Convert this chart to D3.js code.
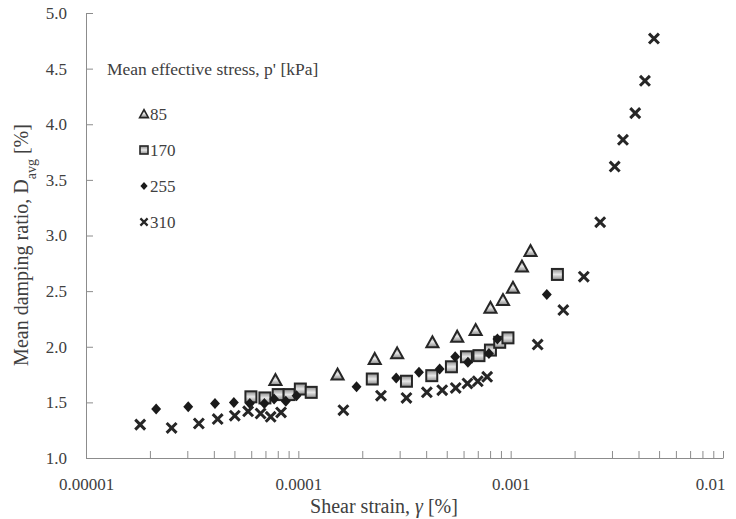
<!DOCTYPE html>
<html>
<head>
<meta charset="utf-8">
<script src="https://cdn.jsdelivr.net/npm/d3@7"></script>
<style>
  body { margin: 0; background: #fff; }
  svg { display: block; }
</style>
</head>
<body>
<div id="chart"></div>
<script>
// Werte (Shear strain [%], Damping [%])
const strain85 = [7.8e-5, 1.53e-4, 2.29e-4, 2.92e-4, 4.28e-4, 5.6e-4, 6.84e-4, 8.03e-4, 9.2e-4, 1.025e-3, 1.13e-3, 1.24e-3];
const damp85   = [1.70, 1.75, 1.89, 1.94, 2.04, 2.09, 2.15, 2.35, 2.42, 2.53, 2.72, 2.86];

const strain170 = [5.98e-5, 6.96e-5, 8.04e-5, 9.05e-5, 1.022e-4, 1.15e-4, 2.23e-4, 3.23e-4, 4.25e-4, 5.26e-4, 6.19e-4, 7.09e-4, 8.03e-4, 8.88e-4, 9.71e-4, 1.66e-3];
const damp170   = [1.55, 1.54, 1.57, 1.57, 1.62, 1.59, 1.71, 1.69, 1.74, 1.82, 1.91, 1.92, 1.97, 2.04, 2.08, 2.65];

const strain255 = [2.14e-5, 3.03e-5, 4.05e-5, 4.97e-5, 5.91e-5, 6.92e-5, 7.69e-5, 8.73e-5, 9.81e-5, 1.88e-4, 2.89e-4, 3.70e-4, 4.63e-4, 5.48e-4, 6.29e-4, 7.90e-4, 8.66e-4, 1.48e-3];
const damp255   = [1.44, 1.46, 1.49, 1.50, 1.49, 1.49, 1.53, 1.51, 1.56, 1.64, 1.72, 1.77, 1.80, 1.91, 1.86, 1.94, 2.07, 2.47];

const strain310 = [1.80e-5, 2.53e-5, 3.40e-5, 4.17e-5, 5.02e-5, 5.80e-5, 6.64e-5, 7.41e-5, 8.29e-5, 1.63e-4, 2.45e-4, 3.23e-4, 4.03e-4, 4.76e-4, 5.51e-4, 6.26e-4, 7.0e-4, 7.75e-4, 1.34e-3, 1.77e-3, 2.21e-3, 2.64e-3, 3.09e-3, 3.38e-3, 3.86e-3, 4.29e-3, 4.73e-3];
const damp310   = [1.30, 1.27, 1.31, 1.35, 1.38, 1.42, 1.40, 1.37, 1.41, 1.43, 1.56, 1.54, 1.59, 1.61, 1.63, 1.67, 1.69, 1.73, 2.02, 2.33, 2.63, 3.12, 3.62, 3.86, 4.10, 4.39, 4.77];

const seriesNames = ["85", "170", "255", "310"];
const yTicks = [1.0, 1.5, 2.0, 2.5, 3.0, 3.5, 4.0, 4.5, 5.0];
const xDecades = [1e-5, 1e-4, 1e-3, 1e-2];
const xTickLabels = ["0.00001", "0.0001", "0.001", "0.01"];

const FONT = "'Liberation Serif', 'Times New Roman', Times, serif";
const TXT = "#404040";
const W = 736, H = 519;
const margin = { top: 13, right: 13, bottom: 61, left: 86 };

const svg = d3.select("#chart").append("svg")
    .attr("width", W)
    .attr("height", H)
    .style("font-family", FONT);

// Verlauf fuer Dreieck und Quadrat
const defs = svg.append("defs");
const grad = defs.append("linearGradient")
    .attr("id", "grayGrad")
    .attr("x1", 0).attr("y1", 0).attr("x2", 0).attr("y2", 1);
grad.append("stop").attr("offset", "0%").attr("stop-color", "#8a8a8a");
grad.append("stop").attr("offset", "50%").attr("stop-color", "#e8e8e8");
grad.append("stop").attr("offset", "100%").attr("stop-color", "#8a8a8a");

const x = d3.scaleLog()
    .domain([1e-5, 1e-2])
    .range([margin.left, W - margin.right]);

const y = d3.scaleLinear()
    .domain([1, 5])
    .range([H - margin.bottom, margin.top]);

// alle Teilstriche auf der log-Achse
const xAllTicks = [];
xDecades.forEach((d, i) => {
    if (i < xDecades.length - 1) {
        for (let k = 1; k < 10; k++) xAllTicks.push(d * k);
    } else {
        xAllTicks.push(d);
    }
});

// X-Achse
const xAxis = svg.append("g")
    .attr("transform", `translate(0,${H - margin.bottom})`)
    .call(d3.axisBottom(x)
        .tickValues(xAllTicks)
        .tickSizeInner(-7)
        .tickSizeOuter(0)
        .tickFormat(d => {
            const idx = xDecades.findIndex(v => Math.abs(v - d) / v < 1e-9);
            return idx >= 0 ? xTickLabels[idx] : "";
        }));
xAxis.attr("font-family", FONT).attr("font-size", 17);
xAxis.select(".domain").attr("stroke", "#8c8c8c");
xAxis.selectAll(".tick line").attr("stroke", "#8c8c8c");
xAxis.selectAll(".tick text")
    .attr("y", 32)
    .attr("dy", null)
    .attr("fill", TXT);
// letztes Label ragt nicht ueber den Rand
xAxis.selectAll(".tick text")
    .filter(d => Math.abs(d - 1e-2) < 1e-9)
    .attr("text-anchor", "end")
    .attr("x", 2);

// Y-Achse
const yAxis = svg.append("g")
    .attr("transform", `translate(${margin.left},0)`)
    .call(d3.axisLeft(y)
        .tickValues(yTicks)
        .tickSizeInner(-7)
        .tickSizeOuter(0)
        .tickPadding(19)
        .tickFormat(d3.format(".1f")));
yAxis.attr("font-family", FONT).attr("font-size", 17);
yAxis.select(".domain").attr("stroke", "#8c8c8c");
yAxis.selectAll(".tick line").attr("stroke", "#8c8c8c");
yAxis.selectAll(".tick text").attr("fill", TXT);

// Achsentitel
svg.append("text")
    .attr("x", 384)
    .attr("y", 513)
    .attr("text-anchor", "middle")
    .attr("fill", TXT)
    .style("font-size", "20px")
    .html('Shear strain, <tspan font-style="italic">γ</tspan> [%]');

const yLab = svg.append("text")
    .attr("transform", "translate(28,245) rotate(-90)")
    .attr("text-anchor", "middle")
    .attr("fill", TXT)
    .style("font-size", "20px");
yLab.append("tspan").text("Mean damping ratio, D");
yLab.append("tspan").attr("baseline-shift", "sub").style("font-size", "14px").text("avg");
yLab.append("tspan").text(" [%]");

// Markerformen
function drawMarker(g, type, s) {
    const big = s > 9;
    if (type === "85") {
        g.append("path")
            .attr("d", `M0,${-s * 0.55}L${s * 0.55},${s * 0.45}L${-s * 0.55},${s * 0.45}Z`)
            .attr("fill", "url(#grayGrad)")
            .attr("stroke", "#262626")
            .attr("stroke-width", big ? 2 : 1.6);
    } else if (type === "170") {
        g.append("rect")
            .attr("x", -s / 2).attr("y", -s / 2)
            .attr("width", s).attr("height", s)
            .attr("fill", "url(#grayGrad)")
            .attr("stroke", "#262626")
            .attr("stroke-width", big ? 2 : 1.6);
    } else if (type === "255") {
        const r = s * 0.5;
        g.append("path")
            .attr("d", `M0,${-r}L${r * 0.9},0L0,${r}L${-r * 0.9},0Z`)
            .attr("fill", "#1a1a1a");
    } else {
        const r = s * 0.45;
        g.append("path")
            .attr("d", `M${-r},${-r}L${r},${r}M${-r},${r}L${r},${-r}`)
            .attr("stroke", "#262626")
            .attr("stroke-width", big ? 3 : 2.2)
            .attr("fill", "none");
    }
}

const series = [
    { name: "85", xs: strain85, ys: damp85 },
    { name: "170", xs: strain170, ys: damp170 },
    { name: "255", xs: strain255, ys: damp255 },
    { name: "310", xs: strain310, ys: damp310 }
];

// Punkte zeichnen
series.forEach(s => {
    const pts = s.xs.map((v, i) => ({ x: v, y: s.ys[i] }));
    const grp = svg.append("g").attr("class", "series-" + s.name);
    grp.selectAll("g")
        .data(pts)
        .enter()
        .append("g")
        .attr("transform", d => `translate(${x(d.x)},${y(d.y)})`)
        .each(function () { drawMarker(d3.select(this), s.name, 11); });
});

// Legende
svg.append("text")
    .attr("x", 107)
    .attr("y", 75)
    .attr("fill", TXT)
    .style("font-size", "17.5px")
    .text("Mean effective stress, p' [kPa]");

seriesNames.forEach((n, i) => {
    const ly = 114 + i * 36;
    const lg = svg.append("g").attr("transform", `translate(144,${ly})`);
    drawMarker(lg, n, 8);
    svg.append("text")
        .attr("x", 150)
        .attr("y", ly + 6)
        .attr("fill", TXT)
        .style("font-size", "17px")
        .text(n);
});
</script>
</body>
</html>
